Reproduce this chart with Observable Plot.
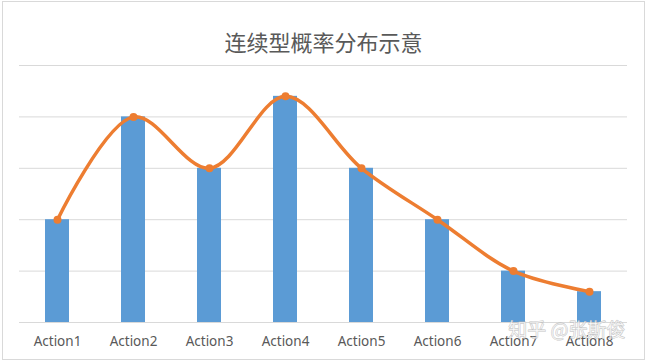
<!DOCTYPE html>
<html>
<head>
<meta charset="utf-8">
<script src="https://cdn.jsdelivr.net/npm/d3@7"></script>
<script src="https://cdn.jsdelivr.net/npm/@observablehq/plot@0.6"></script>
<style>
  html, body { margin: 0; padding: 0; background: #fff; }
  #wrap { position: relative; width: 647px; height: 362px; }
  #border { position: absolute; left: 2px; top: 1px; width: 643px; height: 359px; border: 1px solid #d9d9d9; box-sizing: border-box; pointer-events: none; }
</style>
</head>
<body>
<div id="wrap"><div id="border"></div></div>
<script>
const title = "连续型概率分布示意";
const categories = ["Action1", "Action2", "Action3", "Action4", "Action5", "Action6", "Action7", "Action8"];
const values = [2, 4, 3, 4.4, 3, 2, 1, 0.6];
const yTicks = [0, 1, 2, 3, 4, 5];
const watermark = "知乎 @张斯俊";

const data = categories.map((c, i) => ({ cat: c, v: values[i] }));

const chart = Plot.plot({
  width: 647,
  height: 362,
  marginTop: 65,
  marginBottom: 40,
  marginLeft: 19,
  marginRight: 20,
  style: { fontFamily: "'Noto Sans', sans-serif", background: "transparent", overflow: "visible" },
  x: { type: "band", domain: categories, paddingInner: 0.684, paddingOuter: 0.342, label: null },
  y: { domain: [0, 5], label: null, axis: null },
  marks: [
    Plot.ruleY(yTicks, { stroke: "#d9d9d9", strokeWidth: 1 }),
    Plot.axisX({ tickSize: 0, tickPadding: 14, fontSize: 13.5, color: "#595959", label: null }),
    Plot.barY(data, { x: "cat", y: "v", fill: "#5b9bd5" }),
    Plot.line(data, { x: "cat", y: "v", stroke: "#ed7d31", strokeWidth: 3.5, curve: "catmull-rom" }),
    Plot.dot(data, { x: "cat", y: "v", fill: "#ed7d31", r: 4 }),
    Plot.text([title], { frameAnchor: "top", dy: -30, fontSize: 22, fill: "#595959", fontFamily: "'Noto Sans CJK SC', sans-serif" }),
    Plot.text([watermark], { frameAnchor: "bottom-right", dx: -2, dy: 14, fontSize: 19, fill: "#ffffff", fillOpacity: 0.6, stroke: "#b0b0b0", strokeWidth: 0.8, strokeOpacity: 0.8, fontFamily: "'Noto Sans CJK SC', sans-serif" })
  ]
});
document.getElementById("wrap").prepend(chart);
</script>
</body>
</html>
